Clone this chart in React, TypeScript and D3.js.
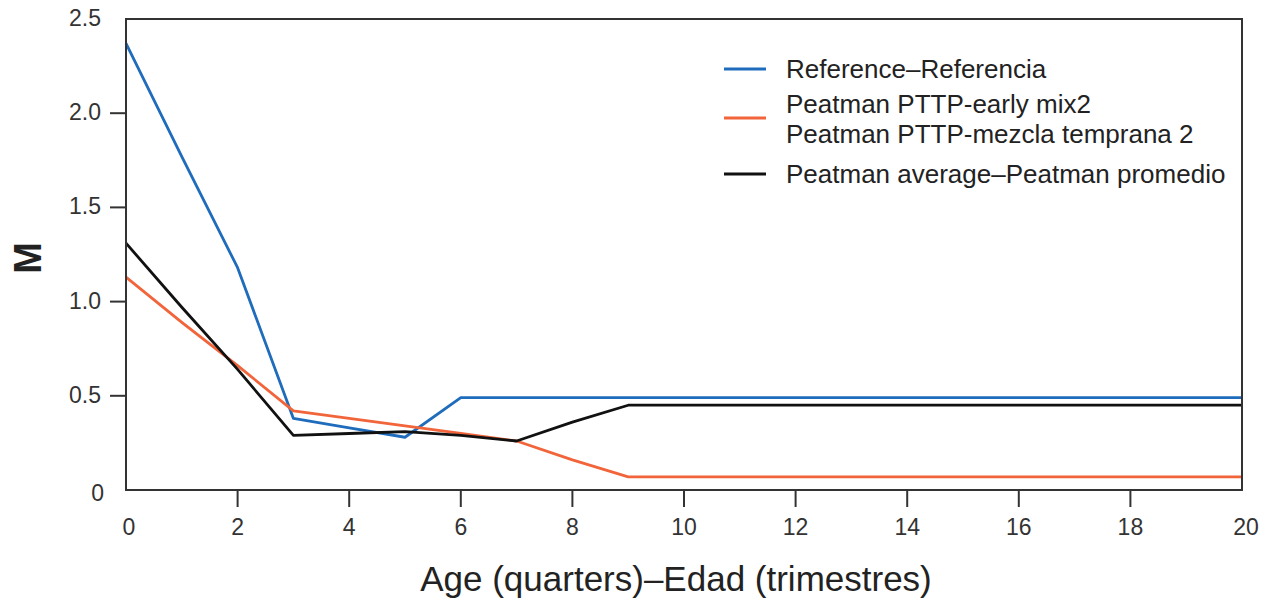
import React from "react";
import * as d3 from "d3";

// age in quarters
const ages = d3.range(0, 21);
const reference = [2.37, 1.77, 1.18, 0.38, 0.33, 0.28, 0.49, 0.49, 0.49, 0.49, 0.49, 0.49, 0.49, 0.49, 0.49, 0.49, 0.49, 0.49, 0.49, 0.49, 0.49];
const earlyMix2 = [1.13, 0.89, 0.66, 0.42, 0.38, 0.34, 0.3, 0.26, 0.16, 0.07, 0.07, 0.07, 0.07, 0.07, 0.07, 0.07, 0.07, 0.07, 0.07, 0.07, 0.07];
const peatmanAvg = [1.31, 0.97, 0.64, 0.29, 0.3, 0.31, 0.29, 0.26, 0.36, 0.45, 0.45, 0.45, 0.45, 0.45, 0.45, 0.45, 0.45, 0.45, 0.45, 0.45, 0.45];

const xTicks = [0, 2, 4, 6, 8, 10, 12, 14, 16, 18, 20];
const yTicks = [0, 0.5, 1.0, 1.5, 2.0, 2.5];

const series = [
  { name: ["Reference–Referencia"], values: reference, color: "#1f6cbc" },
  { name: ["Peatman PTTP-early mix2", "Peatman PTTP-mezcla temprana 2"], values: earlyMix2, color: "#f2643a" },
  { name: ["Peatman average–Peatman promedio"], values: peatmanAvg, color: "#111111" },
];

const W = 1266;
const H = 603;
const m = { left: 126, right: 1242, top: 19, bottom: 490 };
const font = "'Liberation Sans', Arial, sans-serif";

export default function App() {
  const x = d3.scaleLinear().domain([0, 20]).range([m.left, m.right]);
  const y = d3.scaleLinear().domain([0, 2.5]).range([m.bottom, m.top]);

  const line = d3
    .line<number>()
    .x((_, i) => x(ages[i]))
    .y((d) => y(d));

  const legendRows = [69, 118, 174];

  return (
    <svg width={W} height={H} style={{ position: "absolute", left: 0, top: 0, background: "#fff" }} fontFamily={font}>
      {/* y ticks */}
      {yTicks.map((t) => (
        <g key={"y" + t}>
          {t > 0 && t < 2.5 && (
            <line x1={m.left - 16} x2={m.left} y1={y(t)} y2={y(t)} stroke="#333" strokeWidth={2} />
          )}
          <text x={t === 0 ? 104 : 101} y={y(t) + (t === 0 ? 3 : -1)} textAnchor="end" dominantBaseline="central" fontSize={23} fill="#333">
            {t === 0 ? "0" : t.toFixed(1)}
          </text>
        </g>
      ))}
      {/* x ticks */}
      {xTicks.map((t) => (
        <g key={"x" + t}>
          {t > 0 && t < 20 && (
            <line x1={x(t)} x2={x(t)} y1={m.bottom} y2={m.bottom + 17} stroke="#333" strokeWidth={2} />
          )}
          <text x={x(t) + (t === 0 ? 3 : t === 20 ? 4 : 0)} y={527} textAnchor="middle" dominantBaseline="central" fontSize={23} fill="#333">
            {t}
          </text>
        </g>
      ))}
      {/* series */}
      {series.map((s) => (
        <path key={s.name[0]} d={line(s.values) || ""} fill="none" stroke={s.color} strokeWidth={2.8} strokeLinejoin="round" />
      ))}
      {/* frame */}
      <rect x={m.left} y={m.top} width={m.right - m.left} height={m.bottom - m.top} fill="none" stroke="#333" strokeWidth={2} />
      {/* legend */}
      {series.map((s, i) => (
        <g key={"lg" + i}>
          <line x1={724} x2={766} y1={legendRows[i]} y2={legendRows[i]} stroke={s.color} strokeWidth={2.8} />
          {s.name.length === 1 ? (
            <text x={786} y={legendRows[i]} dominantBaseline="central" fontSize={26} fill="#222">
              {s.name[0]}
            </text>
          ) : (
            <>
              <text x={786} y={legendRows[i] - 14} dominantBaseline="central" fontSize={26} fill="#222">
                {s.name[0]}
              </text>
              <text x={786} y={legendRows[i] + 16} dominantBaseline="central" fontSize={26} fill="#222">
                {s.name[1]}
              </text>
            </>
          )}
        </g>
      ))}
      {/* axis titles */}
      <text x={28} y={258} transform="rotate(-90 28 258)" textAnchor="middle" dominantBaseline="central" fontSize={38} fontWeight="bold" fill="#222">
        M
      </text>
      <text x={676} y={578} textAnchor="middle" dominantBaseline="central" fontSize={35} fill="#222">
        Age (quarters)–Edad (trimestres)
      </text>
    </svg>
  );
}
